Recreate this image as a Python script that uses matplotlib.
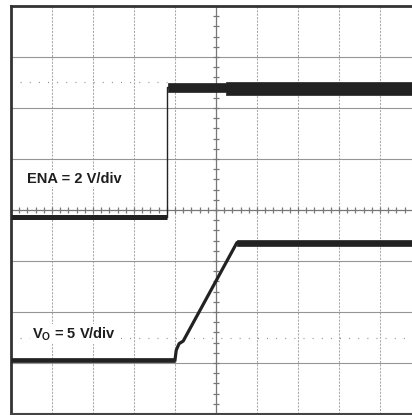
import numpy as np
import matplotlib
matplotlib.use('Agg')
import matplotlib.pyplot as plt

plt.rcParams['font.family'] = ['Liberation Sans', 'DejaVu Sans']
plt.rcParams['mathtext.fontset'] = 'custom'
plt.rcParams['mathtext.rm'] = 'Liberation Sans:bold'
plt.rcParams['mathtext.default'] = 'rm'

# screen is 10 x 8 divisions, the right side is cut off by the picture
x_max = 10.0
n_ydiv = 8

# ENA trace (divisions)
ena_t = [0.0, 3.80, 3.80, 3.83]
ena_v = [3.87, 3.87, 6.42, 6.42]
ena_hi_t = [3.83, 5.25, 5.25, x_max]
ena_hi_top = [6.49, 6.49, 6.51, 6.51]
ena_hi_bot = [6.32, 6.32, 6.26, 6.26]

# VO trace (divisions)
vo_t = [0.0, 4.00, 4.03, 4.10, 4.20, 5.51, x_max]
vo_v = [1.06, 1.06, 1.25, 1.38, 1.43, 3.36, 3.36]
vo_hi_t = [5.51, x_max]
vo_hi_top = [3.42, 3.42]
vo_hi_bot = [3.29, 3.29]

# channel reference markers (dotted)
ref_levels = [6.5, 1.49]
ref_ends = [3.80, x_max]

labels = ['ENA = 2 V/div', r'V$_{\rm O}$ = 5 V/div']
label_pos = [(0.39, 4.61), (0.51, 1.57)]

fig = plt.figure(figsize=(4.12, 4.15), dpi=100)
ax = fig.add_axes([11 / 412, 1 / 415, 410 / 412, 408 / 415])
ax.set_xlim(0, x_max)
ax.set_ylim(0, n_ydiv)
ax.set_xticks([])
ax.set_yticks([])

for s in ['left', 'top']:
    ax.spines[s].set_linewidth(2.0)
    ax.spines[s].set_color('#333333')
ax.spines['bottom'].set_linewidth(1.5)
ax.spines['bottom'].set_color('#444444')
ax.spines['right'].set_visible(False)

# graticule
for xv in range(1, 10):
    if xv == 5:
        continue
    ax.axvline(xv, color='#a8a8a8', lw=0.75, dashes=(2, 1.3), zorder=1)
for yv in range(1, 8):
    if yv == 4:
        continue
    ax.axhline(yv, color='#959595', lw=0.8, zorder=1)
ax.axvline(5, color='#777777', lw=0.9, zorder=1)
ax.axhline(4, color='#777777', lw=0.9, zorder=1)
sub = np.arange(0, 10.01, 0.2)
ax.plot(sub, np.full_like(sub, 4), ls='none', marker='|', ms=4.5, mew=0.9,
        color='#777777', zorder=1)
suby = np.arange(0, 8.01, 0.2)
ax.plot(np.full_like(suby, 5), suby, ls='none', marker='_', ms=4.5, mew=0.9,
        color='#777777', zorder=1)

for lev, end in zip(ref_levels, ref_ends):
    ax.plot([0, end], [lev, lev], color='#909090', lw=0.9, dashes=(0.8, 6.5),
            zorder=1)

# traces
trace = '#222222'
ax.plot(ena_t[:2], ena_v[:2], color=trace, lw=3.6, solid_capstyle='butt', zorder=3)
ax.plot(ena_t[1:], ena_v[1:], color=trace, lw=1.0, zorder=3)
ax.fill_between(ena_hi_t, ena_hi_bot, ena_hi_top, color=trace, lw=0.5, zorder=3)
ax.plot(vo_t[:2], vo_v[:2], color=trace, lw=3.4, solid_capstyle='butt', zorder=3)
ax.plot(vo_t[1:], vo_v[1:], color=trace, lw=2.3, zorder=3)
ax.fill_between(vo_hi_t, vo_hi_bot, vo_hi_top, color=trace, lw=0.5, zorder=3)

for txt, (tx, ty) in zip(labels, label_pos):
    ax.text(tx, ty, txt, fontsize=10.5, fontweight='bold', color='#1e1e1e',
            ha='left', va='center', zorder=4,
            bbox=dict(facecolor='white', edgecolor='none', pad=1.0))

fig.savefig('out.png', dpi=100)
